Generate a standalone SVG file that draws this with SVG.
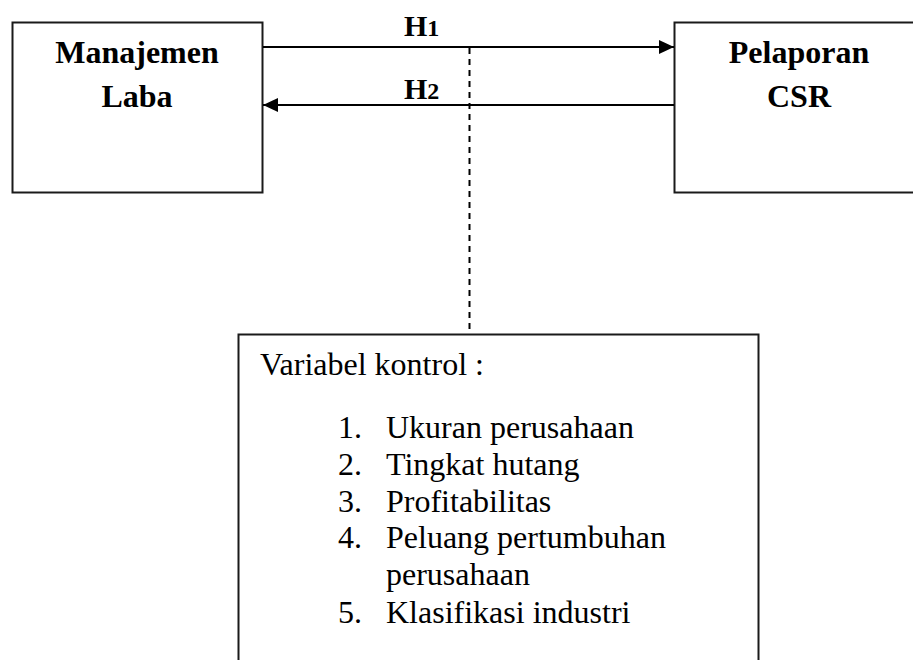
<svg xmlns="http://www.w3.org/2000/svg" width="913" height="660" viewBox="0 0 913 660">
  <style>
    .box { fill: #ffffff; stroke: #1a1a1a; stroke-width: 2; }
    .lbl { font-family: "Liberation Serif", "Times New Roman", serif; font-weight: bold; font-size: 32px; fill: #000; text-anchor: middle; }
    .hyp { font-family: "Liberation Serif", "Times New Roman", serif; font-weight: bold; font-size: 30px; fill: #000; }
    .txt { font-family: "Liberation Serif", "Times New Roman", serif; font-size: 32px; fill: #000; }
    .conn { stroke: #000; stroke-width: 2; fill: none; }
    .dash { stroke: #000; stroke-width: 2; fill: none; stroke-dasharray: 6 5; }
  </style>
  <defs>
    <marker id="arrow" markerUnits="userSpaceOnUse" markerWidth="16" markerHeight="14" refX="15" refY="7" orient="auto">
      <path d="M0,0 L15,7 L0,14 Z" fill="#000"/>
    </marker>
  </defs>
  <rect width="913" height="660" fill="#ffffff"/>

  <g id="node-manajemen-laba">
    <rect class="box" x="12.5" y="22.5" width="250" height="170"/>
    <text class="lbl" x="137" y="63">Manajemen</text>
    <text class="lbl" x="137" y="107">Laba</text>
  </g>

  <g id="node-pelaporan-csr">
    <rect class="box" x="674.5" y="22.5" width="250" height="170"/>
    <text class="lbl" x="799" y="63">Pelaporan</text>
    <text class="lbl" x="799" y="107">CSR</text>
  </g>

  <g id="node-variabel-kontrol">
    <rect class="box" x="238.5" y="334.5" width="520" height="340"/>
    <text class="txt" x="260" y="375">Variabel kontrol :</text>
    <text class="txt" x="338" y="438">1.</text>
    <text class="txt" x="386" y="438">Ukuran perusahaan</text>
    <text class="txt" x="338" y="475">2.</text>
    <text class="txt" x="386" y="475">Tingkat hutang</text>
    <text class="txt" x="338" y="512">3.</text>
    <text class="txt" x="386" y="512">Profitabilitas</text>
    <text class="txt" x="338" y="548">4.</text>
    <text class="txt" x="386" y="548">Peluang pertumbuhan</text>
    <text class="txt" x="386" y="585">perusahaan</text>
    <text class="txt" x="338" y="623">5.</text>
    <text class="txt" x="386" y="623">Klasifikasi industri</text>
  </g>

  <g id="connectors">
    <line class="conn" x1="263" y1="47" x2="674" y2="47" marker-end="url(#arrow)"/>
    <line class="conn" x1="674" y1="105" x2="263" y2="105" marker-end="url(#arrow)"/>
    <line class="dash" x1="469.5" y1="48" x2="469.5" y2="334"/>
    <text class="hyp" x="404" y="36">H<tspan font-size="24">1</tspan></text>
    <text class="hyp" x="404" y="99">H<tspan font-size="24">2</tspan></text>
  </g>
</svg>
